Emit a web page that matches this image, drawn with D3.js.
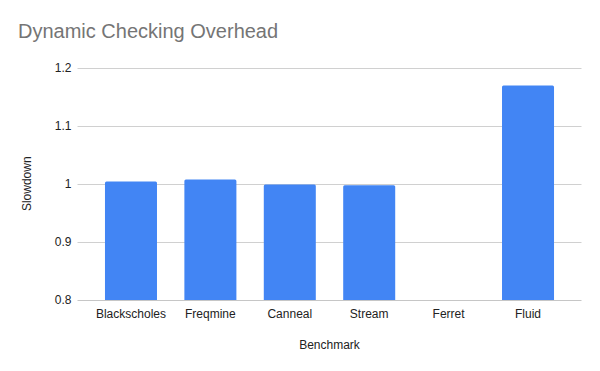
<!DOCTYPE html>
<html>
<head>
<meta charset="utf-8">
<script src="https://cdn.jsdelivr.net/npm/d3@7"></script>
<style>
  body { margin: 0; background: #fff; }
  text { font-family: Arial, "Liberation Sans", sans-serif; }
</style>
</head>
<body>
<div id="chart"></div>
<script>
const width = 600, height = 371;
const margins = { top: 67.5, right: 18.5, bottom: 71, left: 77.5 };

const benchmarks = ["Blackscholes", "Freqmine", "Canneal", "Stream", "Ferret", "Fluid"];
const slowdown = [1.004, 1.0074, 0.9988, 0.9976, null, 1.169];
const yTicks = [0.8, 0.9, 1, 1.1, 1.2];

const svg = d3.select("#chart")
    .append("svg")
    .attr("width", width)
    .attr("height", height);

const x = d3.scaleBand()
    .domain(benchmarks)
    .range([margins.left, width - margins.right])
    .paddingInner(0.345)
    .paddingOuter(0.346);

const y = d3.scaleLinear()
    .domain([0.8, 1.2])
    .range([height - margins.bottom, margins.top]);

// gridlines
svg.append("g")
    .selectAll("line")
    .data(yTicks)
    .join("line")
    .attr("x1", margins.left)
    .attr("x2", width - margins.right)
    .attr("y1", d => Math.round(y(d)) + 0.5)
    .attr("y2", d => Math.round(y(d)) + 0.5)
    .attr("stroke", d => d === 0.8 ? "#c6c6c6" : "#d0d0d0")
    .attr("stroke-width", 1);

// y tick labels
svg.append("g")
    .selectAll("text")
    .data(yTicks)
    .join("text")
    .attr("x", margins.left - 6)
    .attr("y", d => y(d) + 4)
    .attr("text-anchor", "end")
    .attr("font-size", 12)
    .attr("fill", "#222")
    .text(d => d3.format("~g")(d));

// bars with slightly rounded tops
const data = benchmarks.map((b, i) => ({ name: b, value: slowdown[i] }))
    .filter(d => d.value !== null);

svg.append("g")
    .selectAll("path")
    .data(data)
    .join("path")
    .attr("fill", "#4285f4")
    .attr("d", d => {
        const x0 = x(d.name), x1 = x0 + x.bandwidth();
        const y0 = y(0.8), y1 = y(d.value), r = 1.5;
        return `M${x0},${y0}V${y1 + r}Q${x0},${y1} ${x0 + r},${y1}H${x1 - r}Q${x1},${y1} ${x1},${y1 + r}V${y0}Z`;
    });

// x category labels
svg.append("g")
    .selectAll("text")
    .data(benchmarks)
    .join("text")
    .attr("x", d => x(d) + x.bandwidth() / 2)
    .attr("y", height - margins.bottom + 18)
    .attr("text-anchor", "middle")
    .attr("font-size", 12)
    .attr("fill", "#222")
    .text(d => d);

// axis titles
svg.append("text")
    .attr("x", (margins.left + width - margins.right) / 2)
    .attr("y", 349)
    .attr("text-anchor", "middle")
    .attr("font-size", 12)
    .attr("fill", "#222")
    .text("Benchmark");

svg.append("text")
    .attr("transform", `translate(31,${(margins.top + height - margins.bottom) / 2}) rotate(-90)`)
    .attr("text-anchor", "middle")
    .attr("font-size", 12)
    .attr("fill", "#222")
    .text("Slowdown");

// chart title
svg.append("text")
    .attr("x", 18)
    .attr("y", 38)
    .attr("font-size", 20)
    .attr("fill", "#757575")
    .text("Dynamic Checking Overhead");
</script>
</body>
</html>
